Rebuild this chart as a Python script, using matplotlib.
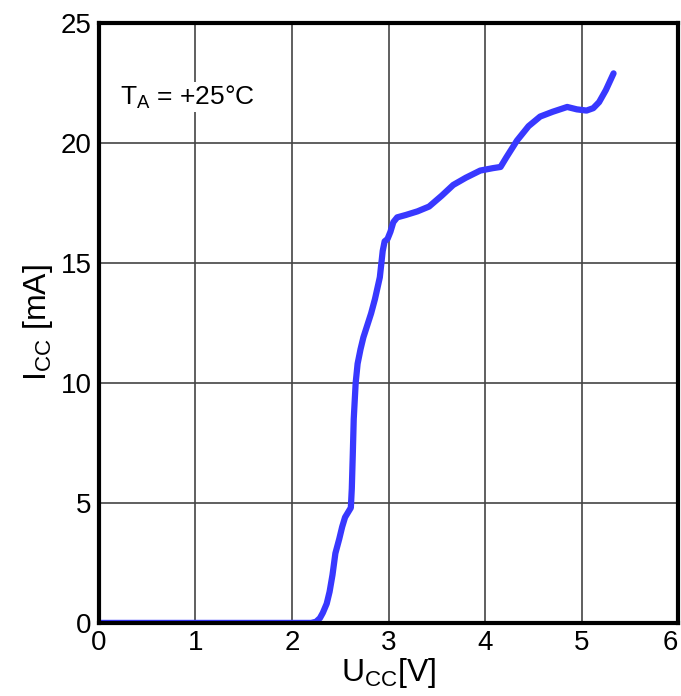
import matplotlib
matplotlib.use('Agg')
import matplotlib.pyplot as plt
import numpy as np

plt.rcParams['font.family'] = ['Liberation Sans', 'DejaVu Sans']
plt.rcParams['mathtext.fontset'] = 'custom'
plt.rcParams['mathtext.rm'] = 'Liberation Sans'

# supply current vs supply voltage
ucc = [0.0, 1.0, 2.0, 2.2, 2.25, 2.29, 2.32, 2.36, 2.39, 2.42, 2.45, 2.49,
       2.52, 2.55, 2.58, 2.61, 2.62, 2.63, 2.64, 2.66, 2.68, 2.71, 2.74,
       2.78, 2.82, 2.86, 2.91, 2.94, 2.96, 2.99, 3.02, 3.05, 3.09, 3.18,
       3.30, 3.42, 3.55, 3.67, 3.80, 3.95, 4.08, 4.16, 4.22, 4.33, 4.45,
       4.57, 4.70, 4.85, 4.95, 5.05, 5.12, 5.18, 5.25, 5.33]
icc = [0.0, 0.0, 0.0, 0.0, 0.05, 0.2, 0.42, 0.8, 1.3, 2.0, 2.9, 3.5,
       4.0, 4.4, 4.6, 4.8, 5.6, 7.0, 8.5, 10.0, 10.8, 11.4, 11.9,
       12.4, 12.9, 13.5, 14.4, 15.5, 15.9, 16.0, 16.3, 16.7, 16.9, 17.0,
       17.15, 17.35, 17.8, 18.25, 18.55, 18.85, 18.95, 19.0, 19.4, 20.1, 20.7,
       21.1, 21.3, 21.5, 21.4, 21.35, 21.45, 21.7, 22.2, 22.9]

xticks = [0, 1, 2, 3, 4, 5, 6]
yticks = [0, 5, 10, 15, 20, 25]

fig = plt.figure(figsize=(6.81, 6.96), dpi=100)
ax = fig.add_axes([0.145, 0.105, 0.851, 0.862])

ax.plot(ucc, icc, color='#3838ff', lw=4.5, solid_capstyle='round',
        solid_joinstyle='round', zorder=3)

ax.set_xlim(0, 6)
ax.set_ylim(0, 25)
ax.set_xticks(xticks)
ax.set_yticks(yticks)
ax.grid(True, color='#444444', lw=1.2)
ax.tick_params(length=0, labelsize=20, pad=5)
ax.get_xticklabels()[-1].set_horizontalalignment('right')
for s in ax.spines.values():
    s.set_linewidth(3)
    s.set_zorder(4)

ax.set_xlabel(r'U$_{\mathrm{CC}}$[V]', fontsize=23, labelpad=0)
ax.set_ylabel(r'I$_{\mathrm{CC}}$ [mA]', fontsize=23, labelpad=4)
ax.text(0.22, 21.9, r'T$_{\mathrm{A}}$ = +25°C', fontsize=19, va='center',
        bbox=dict(facecolor='white', edgecolor='none', pad=1))

plt.savefig('out.png', dpi=100)
